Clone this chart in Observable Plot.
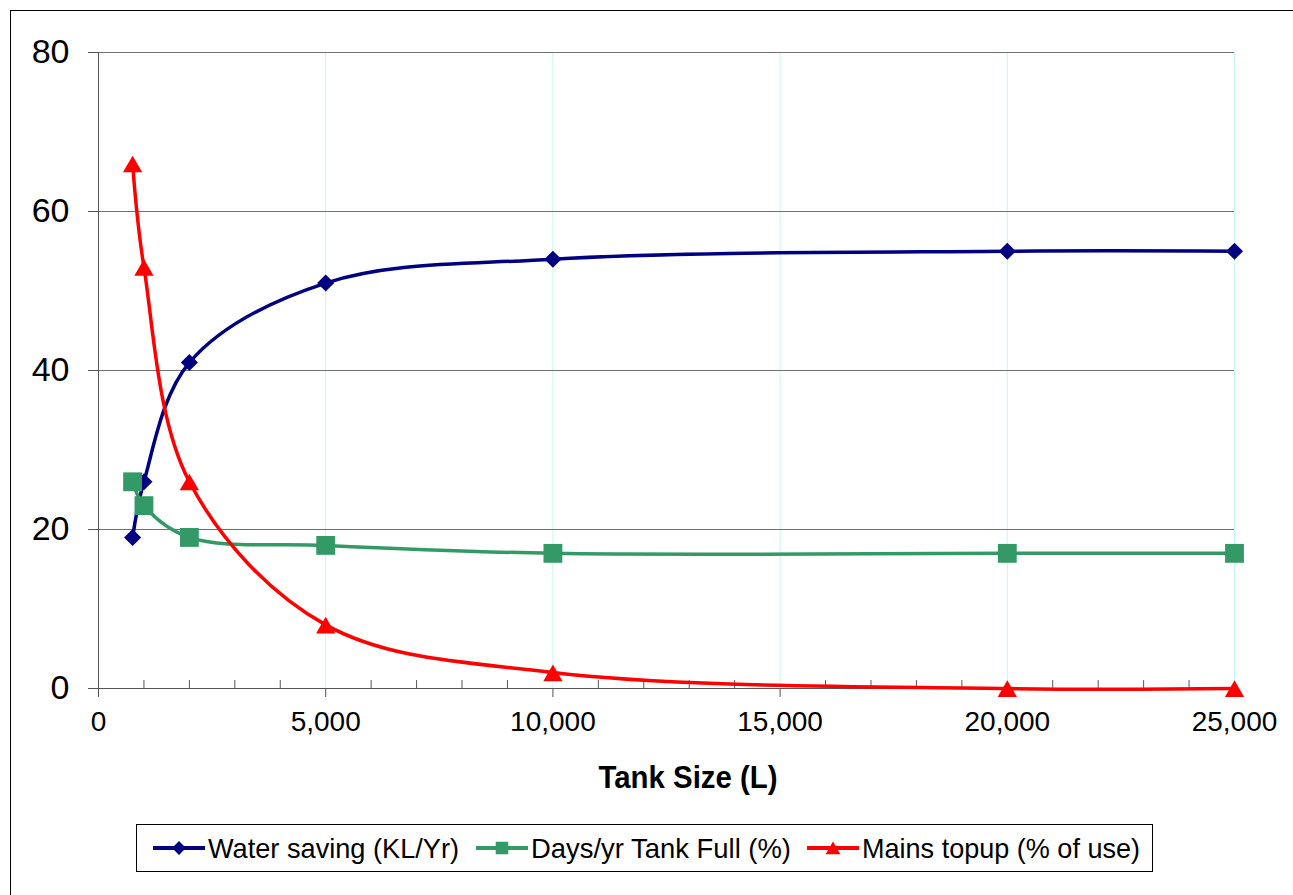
<!DOCTYPE html>
<html><head><meta charset="utf-8">
<script src="https://cdn.jsdelivr.net/npm/d3@7"></script>
<script src="https://cdn.jsdelivr.net/npm/@observablehq/plot@0.6"></script>
<style>
body{margin:0;background:#fff;overflow:hidden;font-family:"Liberation Sans",Arial,sans-serif;}
#wrap{position:relative;width:1293px;height:895px;overflow:hidden;}
#frame{position:absolute;left:10px;top:10px;width:1320px;height:920px;border:1px solid #000;}
#chart{position:absolute;left:0;top:0;}
#chart g[aria-label="y-axis tick label"]{font-size:34px !important;}
#chart g[aria-label="y-axis tick label"] text{font-size:34px !important;}
#chart g[aria-label="x-axis tick label"] text{font-size:28px !important;}
#xtitle{position:absolute;left:0;top:0;}
#legend{position:absolute;left:136px;top:824px;}
</style>
</head><body>
<div id="wrap"><div id="frame"></div><div id="chart"></div><svg id="xtitle" width="1293" height="810"></svg><svg id="legend" width="1080" height="49"></svg></div>
<script>
const tankSize = [750, 1000, 2000, 5000, 10000, 20000, 25000];
const waterSaving = [19, 26, 41, 51, 54, 55, 55];
const daysFull = [26, 23, 19, 18, 17, 17, 17];
const mainsTopup = [66, 53, 26, 8, 2, 0, 0];
const seriesNames = ["Water saving (KL/Yr)", "Days/yr Tank Full (%)", "Mains topup (% of use)"];
const seriesColors = ["#000080", "#339966", "#ff0000"];
const seriesSymbols = ["diamond2", "square2", "triangle2"];
const xTicks = [0, 5000, 10000, 15000, 20000, 25000];
const yTicks = [0, 20, 40, 60, 80];
const xTitle = "Tank Size (L)";

const seriesValues = [waterSaving, daysFull, mainsTopup];
const markerR = [7.7, 12, 9.2];
const markerDy = [0, 0, 3];
const minorTicks = d3.range(0, 25001, 1000).filter(v => v === 0 || v % 5000 !== 0);

const seriesRows = seriesValues.map((vals, s) => tankSize.map((x, i) => ({series: seriesNames[s], x, y: vals[i]})));

const marks = [
  Plot.ruleX(xTicks.filter(v => v > 0), {stroke: "#c6f6f6", strokeWidth: 1}),
  Plot.ruleY(yTicks.filter(v => v > 0), {stroke: "#707070", strokeWidth: 1}),
  Plot.axisY({ticks: yTicks, tickSize: 10, tickPadding: 19, fontSize: 34, label: null, stroke: "#555"}),
  Plot.axisX({ticks: xTicks, tickSize: 9, tickPadding: 14, fontSize: 28, tickFormat: d3.format(","), label: null, stroke: "#555"}),
  Plot.ruleX(minorTicks, {y1: 0, y2: 1, stroke: "#555"}),
  Plot.ruleY([0], {stroke: "#555"}),
  Plot.ruleX([0], {stroke: "#555"})
];
seriesRows.forEach((rows, s) => {
  marks.push(Plot.line(rows, {x: "x", y: "y", stroke: seriesColors[s], strokeWidth: 3.5, curve: "catmull-rom"}));
  marks.push(Plot.dot(rows, {x: "x", y: "y", symbol: seriesSymbols[s], fill: seriesColors[s], stroke: "none", r: markerR[s], dy: markerDy[s]}));
});

const chart = Plot.plot({
  width: 1293, height: 810,
  marginLeft: 98, marginRight: 59, marginTop: 52, marginBottom: 122,
  x: {domain: [0, 25000]},
  y: {domain: [0, 80]},
  style: {fontFamily: "'Liberation Sans', Arial, sans-serif", background: "transparent", color: "#000", overflow: "visible"},
  marks
});
document.getElementById("chart").append(chart);

// x-axis title
d3.select("#xtitle").append("text")
  .attr("x", 688).attr("y", 788).attr("text-anchor", "middle")
  .attr("font-family", "'Liberation Sans', Arial, sans-serif").attr("font-weight", "bold").attr("font-size", 31)
  .attr("textLength", 179).attr("lengthAdjust", "spacingAndGlyphs")
  .text(xTitle);

// legend
const leg = d3.select("#legend");
leg.append("rect").attr("x", 0.5).attr("y", 0.5).attr("width", 1016).attr("height", 47).attr("fill", "#fff").attr("stroke", "#000");
const symMap = {diamond2: d3.symbolDiamond2, square2: d3.symbolSquare2, triangle2: d3.symbolTriangle2};
const legR = [6.2, 8, 7];
const legSampleX = [17, 340, 671];
const legTextLen = [251, 260, 278];
seriesNames.forEach((name, s) => {
  const x0 = legSampleX[s];
  leg.append("line").attr("x1", x0).attr("x2", x0 + 52).attr("y1", 24).attr("y2", 24)
    .attr("stroke", seriesColors[s]).attr("stroke-width", 4);
  leg.append("path").attr("transform", `translate(${x0 + 26},${s === 2 ? 26 : 24})`)
    .attr("d", d3.symbol(symMap[seriesSymbols[s]], legR[s] * legR[s] * Math.PI)()).attr("fill", seriesColors[s]);
  leg.append("text").attr("x", x0 + 55).attr("y", 34)
    .attr("font-family", "'Liberation Sans', Arial, sans-serif").attr("font-size", 28.5)
    .attr("textLength", legTextLen[s]).attr("lengthAdjust", "spacingAndGlyphs")
    .text(name);
});
</script>
</body></html>
